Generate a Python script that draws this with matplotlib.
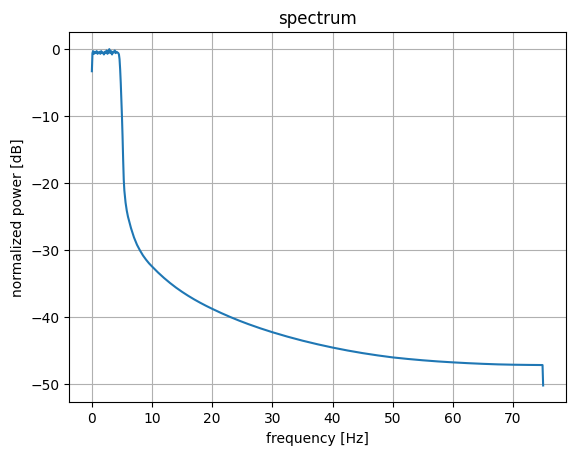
import matplotlib
matplotlib.use("Agg")
import matplotlib.pyplot as plt

freq_hz = [0.0, 0.1, 0.2, 0.35, 0.5, 0.65, 0.8, 0.95, 1.1, 1.25, 1.4, 1.55, 1.7,
           1.85, 2.0, 2.15, 2.3, 2.45, 2.6, 2.75, 2.9, 3.05, 3.2, 3.35, 3.5, 3.65,
           3.8, 3.95, 4.1, 4.25, 4.4, 4.5, 4.6, 4.7, 4.8, 4.9, 5.0, 5.1, 5.2, 5.3,
           5.4, 5.6, 5.8, 6.0, 6.5, 7.0, 7.5, 8.0, 8.5, 9.0, 9.5, 10, 11, 12, 13, 14,
           15, 16, 17, 18, 19, 20, 21.5, 23, 24.5, 26, 28, 30, 32.5, 35, 37.5, 40,
           42.5, 45, 47.5, 50, 52.5, 55, 57.5, 60, 62.5, 65, 67.5, 70, 72.5, 74.9, 75]
power_db = [-3.3, -0.6, -0.3, -0.7, -0.4, -0.6, -0.3, -0.7, -0.5, -0.4, -0.7, -0.3, -0.6,
            -0.5, -0.8, -0.4, -0.6, -0.2, -0.7, -0.4, 0.0, -0.6, -0.3, -0.8, -0.4, -0.5,
            -0.2, -0.6, -0.4, -0.5, -0.6, -0.8, -1.5, -3.0, -5.0, -7.5, -10.0, -13.0, -16.5, -19.5,
            -21.1, -22.9, -24.1, -25.0, -26.7, -28.1, -29.2, -30.05, -30.8, -31.42, -31.97, -32.44,
            -33.34, -34.16, -34.91, -35.6, -36.23, -36.81, -37.35, -37.85, -38.32, -38.76,
            -39.39, -39.98, -40.53, -41.04, -41.67, -42.25, -42.91, -43.51, -44.05, -44.54,
            -44.98, -45.37, -45.71, -46.01, -46.24, -46.44, -46.61, -46.75, -46.87, -46.97,
            -47.05, -47.1, -47.13, -47.15, -50.2]

fig = plt.figure(figsize=(5.74, 4.55), dpi=100)
ax = fig.add_axes([69.3 / 574, (455 - 402.3) / 455, 496.4 / 574, 370 / 455])
ax.plot(freq_hz, power_db, color="#1f77b4")
ax.set_title("spectrum")
ax.set_xlabel("frequency [Hz]")
ax.set_ylabel("normalized power [dB]")
ax.grid(True)
fig.savefig("out.png", dpi=100)
